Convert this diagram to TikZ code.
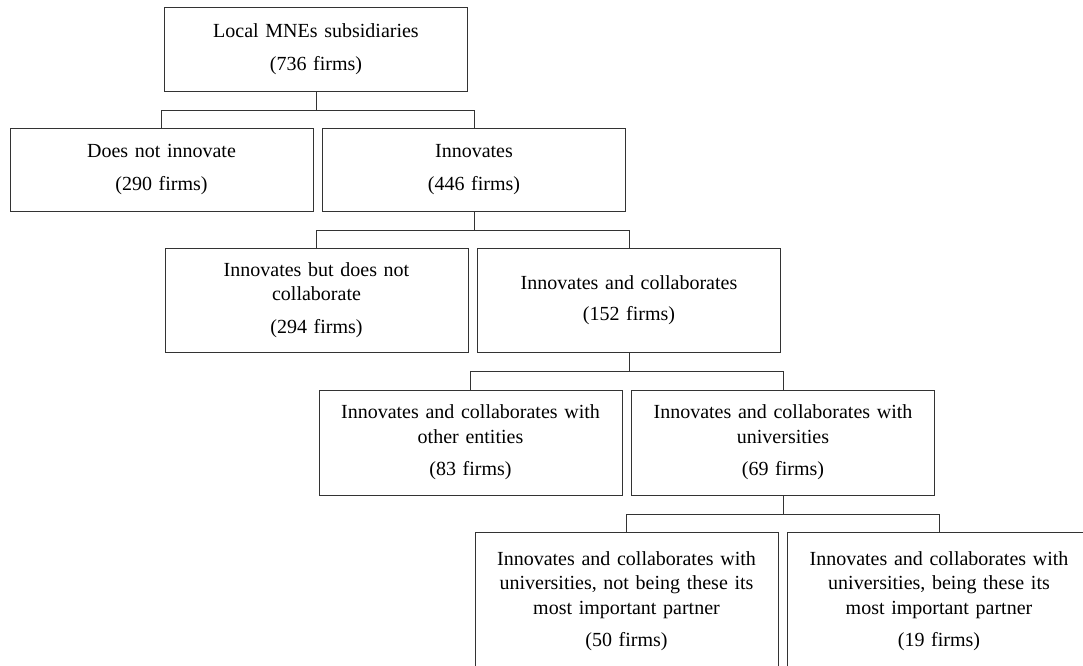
\documentclass[tikz,border=0pt]{standalone}
\usepackage{fontspec}
\setmainfont{Liberation Serif}
\begin{document}
\begin{tikzpicture}[x=1pt,y=1pt,
    box/.style={draw=black!80,line width=1pt,minimum width=303pt,text width=297pt,
      align=center,inner sep=0pt,font=\fontsize{20}{24.5}\selectfont},
    link/.style={draw=black!80,line width=1pt}]
  \useasboundingbox (0,0) rectangle (1083,-665);
  % first level
  \node[box,minimum height=84pt] (root) at (316,-49) {Local MNEs subsidiaries\\[8pt](736 firms)};
  % second level
  \node[box,minimum height=83pt] (noinnov) at (161.5,-169.5) {Does not innovate\\[8pt](290 firms)};
  \node[box,minimum height=83pt] (innov) at (474,-169.5) {Innovates\\[8pt](446 firms)};
  % third level
  \node[box,minimum height=104pt] (nocollab) at (316.5,-300) {Innovates but does not\\collaborate\\[8pt](294 firms)};
  \node[box,minimum height=104pt] (collab) at (629,-300) {Innovates and collaborates\\[7pt](152 firms)};
  % fourth level
  \node[box,minimum height=105pt] (other) at (470.5,-442.5) {Innovates and collaborates with\\other entities\\[8pt](83 firms)};
  \node[box,minimum height=105pt] (univ) at (783,-442.5) {Innovates and collaborates with\\universities\\[8pt](69 firms)};
  % fifth level
  \node[box,minimum height=138pt] (notpartner) at (626.5,-601) {Innovates and collaborates with\\universities, not being these its\\most important partner\\[8pt](50 firms)};
  \node[box,minimum height=138pt] (partner) at (939,-601) {Innovates and collaborates with\\universities, being these its\\most important partner\\[8pt](19 firms)};
  % connectors
  \draw[link] (root.south) -- ++(0,-18.5) -| (noinnov.north);
  \draw[link] (root.south) -- ++(0,-18.5) -| (innov.north);
  \draw[link] (innov.south) -- ++(0,-18.5) -| (nocollab.north);
  \draw[link] (innov.south) -- ++(0,-18.5) -| (collab.north);
  \draw[link] (collab.south) -- ++(0,-19) -| (other.north);
  \draw[link] (collab.south) -- ++(0,-19) -| (univ.north);
  \draw[link] (univ.south) -- ++(0,-18.5) -| (notpartner.north);
  \draw[link] (univ.south) -- ++(0,-18.5) -| (partner.north);
\end{tikzpicture}
\end{document}
